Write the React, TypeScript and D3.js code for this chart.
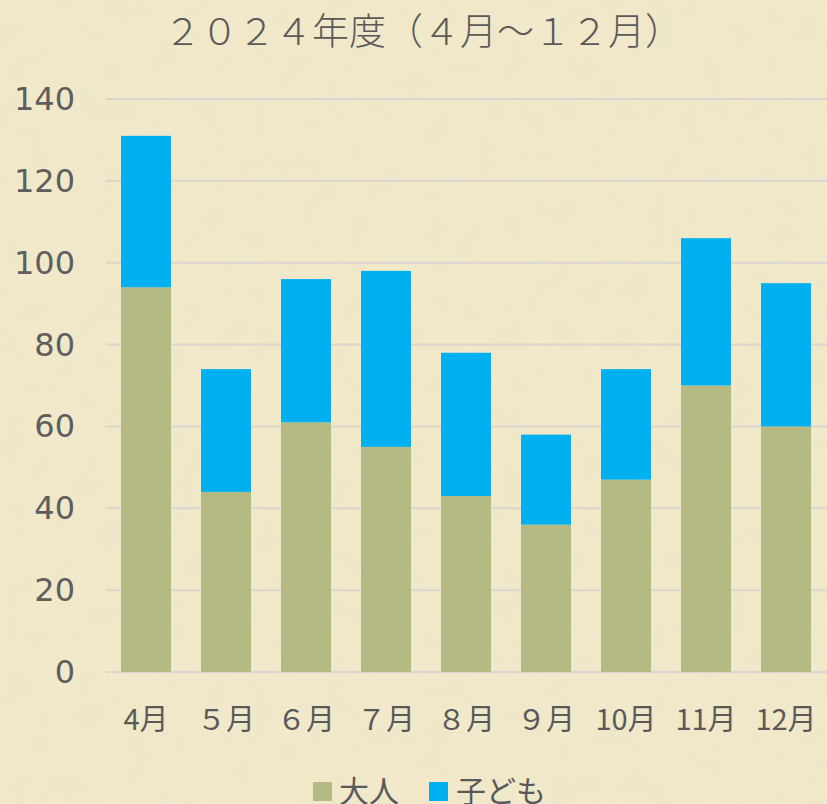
import React from "react";
import * as d3 from "d3";

const months = ["4月", "５月", "６月", "７月", "８月", "９月", "10月", "11月", "12月"];
const adults = [94, 44, 61, 55, 43, 36, 47, 70, 60];
const children = [37, 30, 35, 43, 35, 22, 27, 36, 35];
const seriesNames = ["大人", "子ども"];
const yTicks = [0, 20, 40, 60, 80, 100, 120, 140];
const title = "２０２４年度（４月～１２月）";

const W = 827;
const H = 804;
const colors = ["#b5ba83", "#00b0f0"];
const textColor = "#595959";
const font = "'DejaVu Sans', 'Noto Sans CJK JP', sans-serif";
const cjk = "'Noto Sans CJK JP', sans-serif";

export default function App() {
  const x = d3.scaleBand().domain(months).range([106, 826]).paddingInner(0.375).paddingOuter(0.1875);
  const y = d3.scaleLinear().domain([0, 140]).range([672, 99]);
  const rows = months.map((m, i) => ({ month: m, 大人: adults[i], 子ども: children[i] }));
  const stack = d3.stack<any>().keys(seriesNames)(rows);

  return (
    <svg width={W} height={H} style={{ position: "absolute", left: 0, top: 0 }} fontFamily={font}>
      <defs>
        <filter id="paper" x="0" y="0" width="100%" height="100%">
          <feTurbulence type="fractalNoise" baseFrequency="0.04" numOctaves="4" seed="3" result="noise" />
          <feColorMatrix type="matrix" values="0 0 0 0 0.78  0 0 0 0 0.72  0 0 0 0 0.55  0 0 0 0.9 -0.3" />
        </filter>
      </defs>
      <rect width={W} height={H} fill="#f1e9ca" />
      <rect width={W} height={H} filter="url(#paper)" opacity={0.35} />
      <text x={423} y={45} textAnchor="middle" fontSize={37} fill={textColor} fontFamily={cjk} fontWeight={300}>{title}</text>
      {yTicks.map((t) => (
        <g key={t}>
          <line x1={106} x2={827} y1={y(t)} y2={y(t)} stroke="#d9d6cf" strokeWidth={2} />
          <text x={75} y={y(t) + 11} textAnchor="end" fontSize={32} fill="#5e5e5e">{t}</text>
        </g>
      ))}
      {stack.map((s, si) => (
        <g key={si} fill={colors[si]}>
          {s.map((d: any, i: number) => (
            <rect key={i} x={x(months[i])} width={x.bandwidth()} y={y(d[1])} height={y(d[0]) - y(d[1])} />
          ))}
        </g>
      ))}
      {months.map((m) => (
        <text key={m} x={(x(m) as number) + x.bandwidth() / 2} y={730} textAnchor="middle" fontSize={29} fill={textColor} fontFamily={cjk}>{m}</text>
      ))}
      <g fontFamily={cjk}>
        <rect x={313} y={782} width={19} height={19} fill={colors[0]} />
        <text x={339} y={802} fontSize={30} fill={textColor}>{seriesNames[0]}</text>
        <rect x={429} y={782} width={19} height={19} fill={colors[1]} />
        <text x={456} y={802} fontSize={30} fill={textColor}>{seriesNames[1]}</text>
      </g>
    </svg>
  );
}
